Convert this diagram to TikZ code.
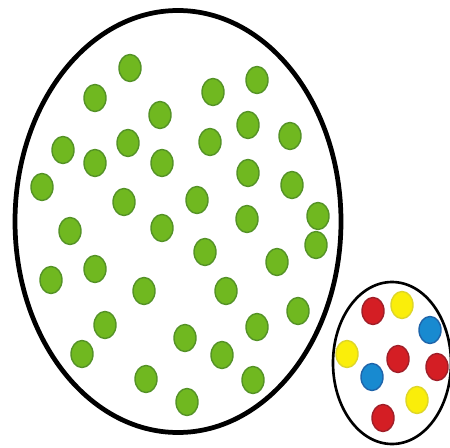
\documentclass[tikz,border=0pt]{standalone}
\usepackage{tikz}
\definecolor{dotgreen}{RGB}{112,184,32}
\definecolor{edgegreen}{RGB}{84,146,38}
\definecolor{dotred}{RGB}{212,30,36}
\definecolor{edgered}{RGB}{160,30,40}
\definecolor{dotyellow}{RGB}{250,238,10}
\definecolor{edgeyellow}{RGB}{222,214,40}
\definecolor{dotblue}{RGB}{24,138,208}
\definecolor{edgeblue}{RGB}{30,100,170}
\tikzset{
  bigset/.style={draw=black, line width=2.7pt},
  smallset/.style={draw=black, line width=1.5pt},
  greendot/.style={fill=dotgreen, draw=edgegreen, line width=0.8pt},
  reddot/.style={fill=dotred, draw=edgered, line width=0.8pt},
  yellowdot/.style={fill=dotyellow, draw=edgeyellow, line width=0.8pt},
  bluedot/.style={fill=dotblue, draw=edgeblue, line width=0.8pt}
}

\begin{document}
\begin{tikzpicture}[x=0.02cm, y=-0.02cm]
  % Canvas
  \useasboundingbox (0,0) rectangle (450,447);
  \fill[white] (0,0) rectangle (450,447);

  % Large set
  \draw[bigset] (178,221.5) ellipse [x radius=163, y radius=211];
  \foreach \px/\py in {130/68, 95/98, 213/92, 257/80, 160/115, 248/125,
      290/136, 63/150, 128/143, 210/142, 95/163, 162/163, 248/173,
      42/187, 292/185, 124/202, 197/200, 247/219, 318/216, 316/245,
      70/231, 162/228, 205/252, 95/269, 277/262, 51/280, 144/291,
      226/291, 298/311, 105/325, 185/338, 257/327, 82/354, 222/355,
      146/379, 187/402, 253/380}
    \filldraw[greendot] (\px,\py) ellipse [x radius=11, y radius=13.5];

  % Small set
  \draw[smallset] (392,363) ellipse [x radius=59, y radius=81];
  \foreach \px/\py in {373/311, 398/359, 437/367, 383/418}
    \filldraw[reddot] (\px,\py) ellipse [x radius=11, y radius=13.5];
  \foreach \px/\py in {402/305, 347/354, 417/400}
    \filldraw[yellowdot] (\px,\py) ellipse [x radius=11, y radius=13.5];
  \foreach \px/\py in {430/330, 372/377}
    \filldraw[bluedot] (\px,\py) ellipse [x radius=11, y radius=13.5];
\end{tikzpicture}
\end{document}
